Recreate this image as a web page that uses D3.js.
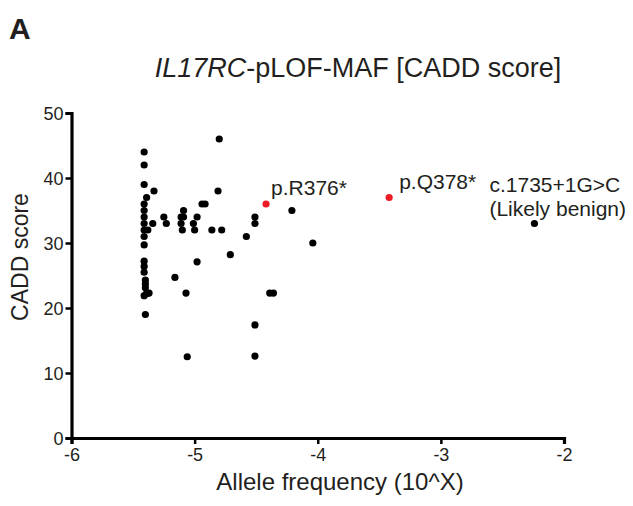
<!DOCTYPE html>
<html>
<head>
<meta charset="utf-8">
<script src="https://cdn.jsdelivr.net/npm/d3@7"></script>
<style>
  body { margin: 0; background: #fff; }
  text { font-family: 'Liberation Sans', Arial, sans-serif; fill: #231f20; }
</style>
</head>
<body>
<div id="chart"></div>
<script>
// allele frequency (log10) and CADD score of each pLOF variant
const freqs = [
  -5.41, -5.41, -5.41, -5.39, -5.41, -5.41, -5.41, -5.41, -5.41, -5.41, -5.41,
  -5.41, -5.41, -5.41, -5.40, -5.40, -5.40, -5.41, -5.39, -5.37, -5.40, -5.34, -5.38,
  -4.80, -5.33, -4.81, -4.94, -4.915, -5.09, -4.21, -5.25, -5.11, -5.09, -4.98,
  -4.51, -5.23, -5.11, -5.01, -4.51, -5.10, -5.00, -4.86, -4.78, -4.58, -4.04,
  -4.71, -4.98, -5.16, -5.07, -4.39, -4.36, -4.51, -5.06, -4.51, -2.24
]
const scores = [
  44, 42, 39, 37, 36, 35, 34, 33, 32, 31, 29.7,
  27.2, 26.4, 25.5, 24.3, 23.7, 23.1, 21.9, 22.2, 22.3, 19.0, 33, 32,
  46, 38, 38, 36, 36, 35, 35, 34, 34, 34, 34,
  34, 33, 33, 33, 33, 32, 32, 32, 32, 31, 30,
  28.2, 27.1, 24.7, 22.3, 22.3, 22.3, 17.4, 12.5, 12.6, 33
]
// highlighted variants
const redFreqs = [-4.42, -3.42]
const redScores = [36, 37]

const labelTexts = ['p.R376*', 'p.Q378*', 'c.1735+1G>C', '(Likely benign)']
const labelFreqs = [-4.42, -3.42, -2.24, -2.24]
const labelScores = [36, 37, 33, 33]

const xTicks = [-6, -5, -4, -3, -2]
const yTicks = [0, 10, 20, 30, 40, 50]

const width = 633
const height = 506

const svg = d3
  .select('#chart')
  .append('svg')
  .attr('width', width)
  .attr('height', height)

const x = d3.scaleLinear().domain([-6, -2]).range([71.5, 564])
const y = d3.scaleLinear().domain([0, 50]).range([438, 113])

const fmt = d => String(d)
const xAxis = svg
  .append('g')
  .attr('transform', `translate(0,${y(0)})`)
  .call(d3.axisBottom(x).tickValues(xTicks).tickFormat(fmt).tickSize(6).tickSizeOuter(6).tickPadding(3))
const yAxis = svg
  .append('g')
  .attr('transform', `translate(${x(-6)},0)`)
  .call(d3.axisLeft(y).tickValues(yTicks).tickFormat(fmt).tickSize(6).tickSizeOuter(6).tickPadding(2))

for (const ax of [xAxis, yAxis]) {
  ax.select('.domain').attr('stroke', '#000').attr('stroke-width', 3.2)
  ax.selectAll('.tick line').attr('stroke', '#000').attr('stroke-width', 2.5)
  ax.selectAll('.tick text')
    .style('font-family', "'Liberation Sans', Arial, sans-serif")
    .style('font-size', '18px')
    .attr('fill', '#231f20')
}
xAxis.selectAll('.tick text').attr('dy', '0.8em')
yAxis.selectAll('.tick text').attr('dy', '0.36em')

const idx = d3.range(freqs.length)
svg
  .append('g')
  .selectAll('circle')
  .data(idx)
  .enter()
  .append('circle')
  .attr('cx', i => x(freqs[i]))
  .attr('cy', i => y(scores[i]))
  .attr('r', 3.6)
  .attr('fill', '#000')

svg
  .append('g')
  .selectAll('circle')
  .data(d3.range(redFreqs.length))
  .enter()
  .append('circle')
  .attr('cx', i => x(redFreqs[i]))
  .attr('cy', i => y(redScores[i]))
  .attr('r', 3.6)
  .attr('fill', '#ee1c24')

// label offsets from their point, in pixels
const labelDx = [5, 10, -45, -45]
const labelDy = [-9, -9, -32, -8]
svg
  .append('g')
  .selectAll('text')
  .data(d3.range(labelTexts.length))
  .enter()
  .append('text')
  .attr('x', i => x(labelFreqs[i]) + labelDx[i])
  .attr('y', i => y(labelScores[i]) + labelDy[i])
  .style('font-size', '21px')
  .text(i => labelTexts[i])

const title = svg
  .append('text')
  .attr('x', 358)
  .attr('y', 77)
  .attr('text-anchor', 'middle')
  .style('font-size', '27px')
title.append('tspan').style('font-style', 'italic').text('IL17RC')
title.append('tspan').text('-pLOF-MAF [CADD score]')

svg
  .append('text')
  .attr('x', 9)
  .attr('y', 39)
  .style('font-size', '30px')
  .style('font-weight', 'bold')
  .text('A')

svg
  .append('text')
  .attr('x', 340)
  .attr('y', 490)
  .attr('text-anchor', 'middle')
  .style('font-size', '24px')
  .text('Allele frequency (10^X)')

svg
  .append('text')
  .attr('transform', `translate(28,${257}) rotate(-90)`)
  .attr('text-anchor', 'middle')
  .style('font-size', '23px')
  .text('CADD score')
</script>
</body>
</html>
